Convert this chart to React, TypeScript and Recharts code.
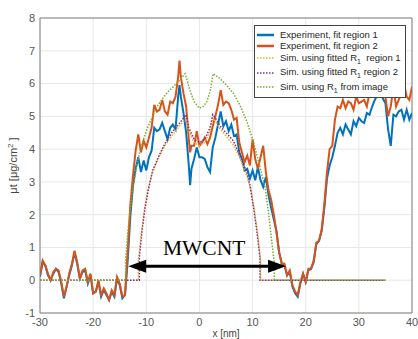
import { LineChart, Line, XAxis, YAxis, CartesianGrid, ReferenceLine, Legend } from 'recharts';

// measured profile, shared x grid (nm)
const expX = [
  -30, -29.5, -29, -28.5, -28, -27.5, -27, -26.5, -26, -25.5,
  -25, -24.5, -24, -23.5, -23, -22.5, -22, -21.5, -21, -20.5,
  -20, -19.5, -19, -18.5, -18, -17.5, -17, -16.5, -16, -15.5,
  -15, -14.5, -14, -13.5, -13, -12.5, -12, -11.5, -11, -10.5,
  -10, -9.5, -9, -8.5, -8, -7.5, -7, -6.5, -6, -5.5,
  -5, -4.5, -4, -3.75, -3.5, -3, -2.5, -2, -1.75, -1.5,
  -1, -0.5, 0, 0.5, 1, 1.5, 2, 2.5, 3, 3.5,
  4, 4.5, 5, 5.5, 6, 6.5, 7, 7.5, 8, 8.5,
  9, 9.5, 10, 10.5, 11, 11.5, 12, 12.5, 13, 13.5,
  14, 14.5, 15, 15.5, 16, 16.5, 17, 17.5, 18, 18.5,
  19, 19.5, 20, 20.5, 21, 21.5, 22, 22.5, 23, 23.5,
  24, 24.5, 25, 25.5, 26, 26.5, 27, 27.5, 28, 28.5,
  29, 29.5, 30, 30.5, 31, 31.5, 32, 32.5, 33, 33.5,
  34, 34.5, 35, 35.5, 36, 36.5, 37, 37.5, 38, 38.5,
  39, 39.5, 40,
];

const fitRegion1 = [
  0.1, 0.55, 0.45, 0.15, 0.0, 0.2, 0.35, 0.25, -0.1, -0.55,
  -0.2, 0.15, 0.45, 0.85, 0.5, 0.05, 0.25, 0.3, -0.1, 0.15,
  -0.4, -0.35, -0.05, -0.5, -0.3, -0.45, -0.6, -0.35, -0.5, 0.05,
  -0.15, -0.55, -0.45, 0.6, 1.95, 2.9, 3.4, 3.75, 3.3, 3.65,
  3.35, 3.75, 3.95, 4.65, 4.55, 4.6, 4.8, 4.55, 4.3, 4.65,
  4.75, 4.6, 5.6, 5.95, 5.6, 5.1, 4.5, 3.5, 2.9, 3.4,
  3.7, 4.05, 3.75, 3.75, 3.7, 3.45, 3.3, 4.05, 4.35, 4.75,
  5.15, 4.7, 4.85, 4.55, 4.75, 4.4, 4.45, 3.9, 3.7, 3.35,
  3.4, 3.1, 3.35, 3.05, 3.45, 3.05, 2.85, 3.15, 2.6, 2.2,
  1.85, 1.5, 0.85, 0.5, 0.45, 0.15, 0.25, -0.2, -0.4, -0.5,
  -0.1, 0.2, -0.05, 0.3, 0.35, 0.55, 1.1, 1.2, 1.5, 2.2,
  3.1, 3.5, 3.75, 4.1, 4.5, 4.65, 4.45, 4.75, 4.6, 4.45,
  4.85, 4.7, 4.95, 4.85, 4.8, 5.1, 5.05, 5.3, 5.5, 5.65,
  5.75, 5.55, 5.4, 4.6, 4.1, 5.05, 5.0, 5.15, 5.2, 4.9,
  5.2, 4.9, 5.1,
];

const fitRegion2 = [
  0.15, 0.6, 0.45, 0.2, 0.0, 0.25, 0.35, 0.3, -0.05, -0.5,
  -0.2, 0.2, 0.5, 0.9, 0.55, 0.05, 0.3, 0.35, -0.05, 0.2,
  -0.4, -0.35, 0.0, -0.45, -0.25, -0.4, -0.6, -0.3, -0.45, 0.1,
  -0.1, -0.5, -0.45, 0.9, 2.3, 3.2, 3.95, 4.45, 3.9, 4.25,
  4.05, 4.35, 4.65, 5.35, 5.15, 5.2, 5.5, 5.15, 5.05, 5.45,
  5.4, 5.6, 6.2, 6.7, 6.2, 5.7, 5.3, 4.3, 3.9, 4.1,
  4.1, 4.55, 4.1, 4.2, 4.35, 4.15, 4.35, 4.7, 5.0, 5.35,
  5.8, 5.35, 5.45, 5.4, 5.2, 4.9, 4.95, 4.2, 3.9, 3.6,
  3.8, 3.5, 4.3, 3.7, 3.4, 3.75, 4.1, 3.3, 2.75, 2.45,
  2.0, 1.45, 0.85, 0.5, 0.5, 0.15, 0.3, -0.15, -0.35, -0.45,
  -0.05, 0.2, -0.05, 0.35, 0.35, 0.6, 1.15, 1.2, 1.55, 2.3,
  3.3, 4.0, 4.1, 4.9, 5.3, 5.25, 5.5, 5.25, 5.45, 5.4,
  5.2, 5.6, 5.4, 5.45, 5.5, 5.3, 5.7, 5.9, 6.1, 6.2,
  5.9, 6.0, 5.6, 5.0, 5.3, 5.9, 5.3, 5.5, 5.7, 6.0,
  5.6, 5.5, 5.9,
];

// simulated profiles
const simFit1X = [-30, -11.5, -11.5, -11, -10.4, -9.7, -9, -7.8, -6.5, -5, -4, -3, -2.5, -2, -1, 0, 1, 2, 2.5, 3, 4, 5, 6.5, 7.8, 9, 9.7, 10.4, 11, 11.5, 11.5, 35];
const simFit1Y = [0, 0, 0.6, 1.35, 2.1, 2.75, 3.2, 3.7, 4.1, 4.45, 4.65, 4.85, 4.95, 4.55, 4.2, 4.1, 4.2, 4.55, 4.95, 4.85, 4.6, 4.4, 4.1, 3.65, 3.15, 2.75, 2.1, 1.35, 0.6, 0, 0];

const simFit2X = [-30, -11.3, -11.3, -10.8, -10.2, -9.5, -8.8, -7.6, -6.4, -5, -3.9, -3, -2.5, -2, -1, 0, 1, 2, 2.5, 3, 3.9, 5, 6.4, 7.6, 8.9, 9.5, 10.2, 10.8, 11.4, 11.4, 35];
const simFit2Y = [0, 0, 0.7, 1.5, 2.25, 2.85, 3.35, 3.8, 4.2, 4.55, 4.75, 4.95, 5.05, 4.65, 4.3, 4.2, 4.3, 4.65, 5.05, 4.95, 4.7, 4.5, 4.25, 3.8, 3.3, 2.9, 2.2, 1.5, 0.7, 0, 0];

const simImageX = [-30, -13.9, -13.9, -13.4, -12.7, -12, -11.2, -9.9, -8, -6.2, -4.3, -2.7, -2.4, -1.8, -1, -0.5, 0, 0.7, 1.4, 2, 2.6, 3.9, 5.1, 6.4, 7.6, 8.9, 10.2, 11.4, 12.4, 13, 13.6, 14.1, 14.1, 35];
const simImageY = [0, 0, 0.6, 1.6, 2.6, 3.3, 3.95, 4.6, 5.3, 5.7, 6.0, 6.3, 6.15, 5.8, 5.45, 5.35, 5.25, 5.3, 5.45, 5.75, 6.3, 6.15, 5.95, 5.7, 5.35, 4.85, 4.2, 3.45, 2.8, 2.05, 1.2, 0.5, 0, 0];

const xTicks = [-30, -20, -10, 0, 10, 20, 30, 40];
const yTicks = [-1, 0, 1, 2, 3, 4, 5, 6, 7, 8];

// tube outline arrow (left end, right end), y level
const tubeEdges = [-13.4, 16.3];
const arrowLevel = 0.43;

const toPoints = (xs: number[], ys: number[]) => xs.map((x, i) => ({ x, y: ys[i] }));

const series = [
  { key: 'e1', data: toPoints(expX, fitRegion1), color: '#0072BD', dotted: false, pre: 'Experiment, fit region 1', sub: '', post: '' },
  { key: 'e2', data: toPoints(expX, fitRegion2), color: '#D95319', dotted: false, pre: 'Experiment, fit region 2', sub: '', post: '' },
  { key: 's1', data: toPoints(simFit1X, simFit1Y), color: '#EDB120', dotted: true, pre: 'Sim. using fitted R', sub: '1', post: '\u00a0 region 1' },
  { key: 's2', data: toPoints(simFit2X, simFit2Y), color: '#7E2F8E', dotted: true, pre: 'Sim. using fitted R', sub: '1', post: ' region 2' },
  { key: 's3', data: toPoints(simImageX, simImageY), color: '#77AC30', dotted: true, pre: 'Sim. using R', sub: '1', post: ' from image' },
];

const FONT = '"Liberation Sans", Arial, sans-serif';

function LegendBox() {
  return (
    <div
      style={{
        border: '1px solid #444',
        background: '#fff',
        padding: '3px 4px 2px 2px',
        fontFamily: FONT,
        fontSize: 9.5,
        color: '#262626',
      }}
    >
      {series.map((s) => (
        <div key={s.key} style={{ display: 'flex', alignItems: 'center', height: s.sub ? 14.5 : 11 }}>
          <svg width={17} height={6} style={{ flex: 'none' }}>
            <line
              x1={0}
              y1={3}
              x2={17}
              y2={3}
              stroke={s.color}
              strokeWidth={s.dotted ? 1.4 : 2.5}
              strokeDasharray={s.dotted ? '1.5 1.5' : undefined}
            />
          </svg>
          <span style={{ marginLeft: 6, whiteSpace: 'nowrap' }}>
            {s.pre}
            {s.sub && <sub style={{ fontSize: 7, verticalAlign: '-3px' }}>{s.sub}</sub>}
            {s.post}
          </span>
        </div>
      ))}
    </div>
  );
}

function YLabel(props: any) {
  const { viewBox } = props;
  const cx = viewBox.x + 7;
  const cy = viewBox.y + viewBox.height / 2;
  return (
    <text x={cx} y={cy} transform={`rotate(-90, ${cx}, ${cy})`} textAnchor="middle" fontSize={11} fill="#444" fontFamily={FONT}>
      μt  [μg/cm<tspan dy={-4} fontSize={8}>2</tspan>
      <tspan dy={4}> ]</tspan>
    </text>
  );
}

function ArrowShape(props: any) {
  const { x1, y1, x2, y2 } = props;
  const head = 18;
  const half = 6.5;
  const mid = (x1 + x2) / 2 - 3;
  return (
    <g>
      <line x1={x1 + head - 2} y1={y1} x2={x2 - head + 2} y2={y2} stroke="#000" strokeWidth={3} />
      <polygon points={`${x1},${y1} ${x1 + head},${y1 - half} ${x1 + head},${y1 + half}`} fill="#000" />
      <polygon points={`${x2},${y2} ${x2 - head},${y2 - half} ${x2 - head},${y2 + half}`} fill="#000" />
      <text x={mid} y={y1 - 11} textAnchor="middle" fontFamily='"Liberation Serif", "Times New Roman", serif' fontSize={21.5} fill="#000">
        MWCNT
      </text>
    </g>
  );
}

export default function App() {
  const tick = { fill: '#555', fontSize: 11, fontFamily: FONT };
  return (
    <div style={{ position: 'absolute', left: 0, top: 0, background: '#fff' }}>
      <LineChart width={418} height={339} margin={{ top: 18, right: 6, bottom: 0, left: 10 }}>
        <CartesianGrid stroke="#e8e8e8" />
        <XAxis
          dataKey="x"
          type="number"
          domain={[-30, 40]}
          ticks={xTicks}
          allowDataOverflow
          height={26}
          tickLine={false}
          tickSize={0}
          tickMargin={5}
          stroke="#808080"
          tick={tick}
          label={{ value: 'x [nm]', position: 'insideBottom', offset: 2, fill: '#444', fontSize: 10, fontFamily: FONT }}
        />
        <YAxis
          type="number"
          domain={[-1, 8]}
          ticks={yTicks}
          allowDataOverflow
          width={30}
          tickLine={false}
          tickSize={0}
          tickMargin={5}
          stroke="#808080"
          tick={tick}
          label={<YLabel />}
        />
        <ReferenceLine y={8} stroke="#808080" />
        <ReferenceLine x={40} stroke="#808080" />
        {series.map((s) => (
          <Line
            key={s.key}
            data={s.data}
            dataKey="y"
            type="linear"
            stroke={s.color}
            strokeWidth={s.dotted ? 1.5 : 2}
            strokeDasharray={s.dotted ? '1.5 1.5' : undefined}
            dot={false}
            activeDot={false}
            isAnimationActive={false}
          />
        ))}
        <ReferenceLine
          segment={[
            { x: tubeEdges[0], y: arrowLevel },
            { x: tubeEdges[1], y: arrowLevel },
          ]}
          shape={ArrowShape}
        />
        <Legend
          layout="vertical"
          align="center"
          verticalAlign="middle"
          content={<LegendBox />}
          wrapperStyle={{ left: 254, top: 25, width: 'auto' }}
        />
      </LineChart>
    </div>
  );
}
